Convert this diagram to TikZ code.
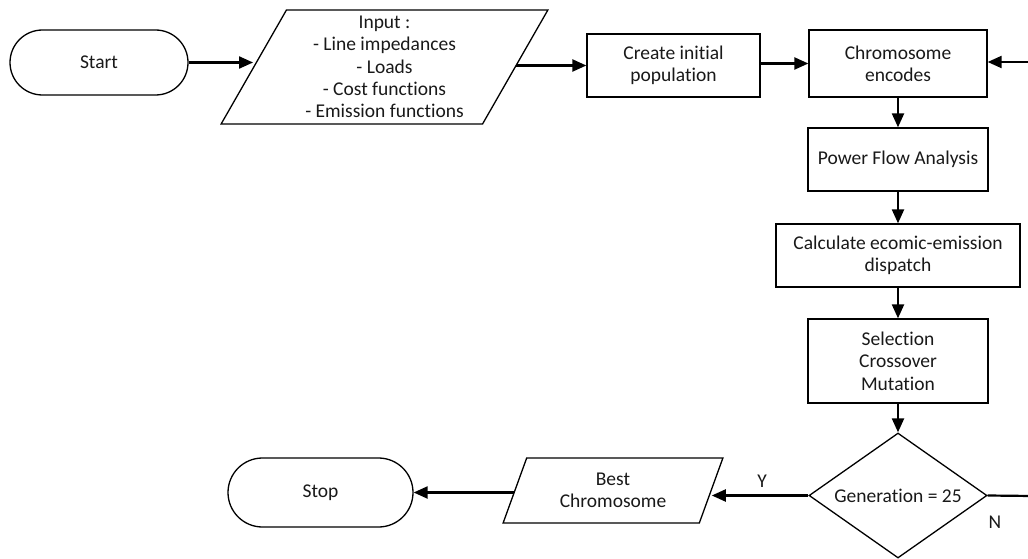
\documentclass[tikz,border=0pt]{standalone}
\usepackage{fontspec}
\setmainfont{Carlito}[Ligatures=NoCommon]
\usetikzlibrary{shapes.geometric,shapes.misc,arrows.meta}
\begin{document}
\begin{tikzpicture}[x=1pt,y=-1pt,
  every node/.style={font=\fontsize{19.5}{22.3}\selectfont, text=black!90, align=center, inner sep=0pt},
  box/.style={draw, line width=1.3pt, rectangle},
  term/.style={draw, line width=1.3pt, rounded rectangle},
  io/.style={draw, line width=1.3pt, trapezium, trapezium stretches=true},
  dec/.style={draw, line width=1.3pt, diamond, shape aspect=1.44},
  arr/.style={line width=2.2pt, -{Triangle[length=14pt,width=12pt]}},
  ln/.style={line width=2.2pt}
]
\useasboundingbox (0,0) rectangle (1028,559);
\node[term, minimum width=178pt, minimum height=65pt] (start) at (99,62.5) {Start};
\node[io, minimum width=327pt, minimum height=114pt, trapezium left angle=62.6, trapezium right angle=117.4] (input) at (384.5,67) {Input :\\- Line impedances\\- Loads\\- Cost functions\\- Emission functions};
\node[box, minimum width=173pt, minimum height=63pt] (init) at (673.5,65.5) {Create initial\\population};
\node[box, minimum width=178pt, minimum height=67pt] (chrom) at (898,63.5) {Chromosome\\encodes};
\node[box, minimum width=180pt, minimum height=63pt] (pf) at (898,159.5) {Power Flow Analysis};
\node[box, minimum width=244pt, minimum height=63pt] (calc) at (898,255.5) {Calculate ecomic-emission\\dispatch};
\node[box, minimum width=180pt, minimum height=84pt] (sel) at (898,361) {Selection\\Crossover\\Mutation};
\node[dec, minimum width=178pt, minimum height=125pt] (gen) at (898,495.5) {Generation = 25};
\node[io, minimum width=220pt, minimum height=65pt, trapezium left angle=67.4, trapezium right angle=112.6] (best) at (613,490.5) {Best\\Chromosome};
\node[term, minimum width=185pt, minimum height=69pt] (stop) at (320.5,492.5) {Stop};
\coordinate (inR) at (1032,62);
\coordinate (outR) at (1032,496);
\node (Y) at (762,481) {Y};
\node (N) at (995,522) {N};
\draw[arr] (start.east) -- (input.west |- start.east);
\draw[arr] (input.east |- init.west) -- (init.west);
\draw[arr] (init.east |- chrom.west) -- (chrom.west);
\draw[arr] (inR) -- (chrom.east |- inR);
\draw[arr] (chrom.south) -- (pf.north);
\draw[arr] (pf.south) -- (calc.north);
\draw[arr] (calc.south) -- (sel.north);
\draw[arr] (sel.south) -- (gen.north);
\draw[ln] (gen.east) -- (outR);
\draw[arr] (gen.west) -- (best.east |- gen.west);
\draw[arr] (best.west |- stop.east) -- (stop.east);
\end{tikzpicture}
\end{document}
